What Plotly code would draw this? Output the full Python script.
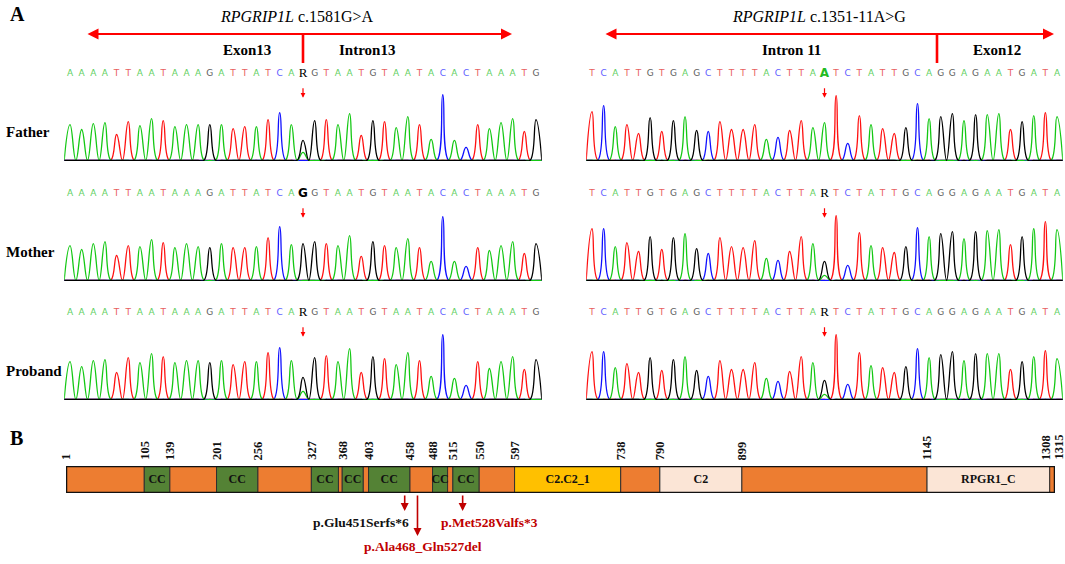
import numpy as np
import plotly.graph_objects as go

W, H = 1065, 564

# ---------------- dados: painel A (cromatogramas) ----------------
seq_esq_pai = "AAAATTAATAAAGATTATCARGTAATGTAATACACTAAATG"
seq_esq_mae = "AAAATTAATAAAGATTATCAGGTAATGTAATACACTAAATG"
seq_esq_probando = "AAAATTAATAAAGATTATCARGTAATGTAATACACTAAATG"
seq_dir_pai = "TCATTGTGAGCTTTTACTTAATCTATTGCAGGAGAATGATA"
seq_dir_mae = "TCATTGTGAGCTTTTACTTARTCTATTGCAGGAGAATGATA"
seq_dir_probando = "TCATTGTGAGCTTTTACTTARTCTATTGCAGGAGAATGATA"

alt_esq_pai = [36, 31, 37, 38, 26, 39, 35, 42, 40, 34, 36, 36, 36, 36, 32, 34, 34, 41, 48, 36,
               20, 40, 41, 36, 47, 25, 40, 39, 33, 44, 36, 21, 66, 20, 13, 36, 32, 38, 42, 29, 41]
alt_esq_mae = [35, 31, 37, 39, 25, 35, 34, 41, 38, 33, 37, 34, 33, 37, 33, 33, 34, 43, 54, 36,
               37, 39, 37, 35, 45, 24, 39, 35, 33, 42, 33, 19, 64, 19, 14, 33, 30, 35, 39, 27, 37]
alt_esq_probando = [38, 33, 39, 40, 27, 42, 37, 46, 43, 37, 39, 39, 37, 39, 35, 38, 38, 47, 52, 39,
                    22, 42, 44, 38, 51, 27, 43, 41, 35, 47, 39, 23, 65, 21, 14, 38, 31, 38, 43, 30, 40]
alt_dir_pai = [49, 55, 34, 36, 27, 43, 29, 40, 44, 30, 29, 39, 31, 31, 36, 21, 23, 30, 40, 33,
               38, 65, 17, 45, 36, 32, 27, 33, 57, 42, 44, 47, 40, 46, 46, 47, 31, 39, 45, 48, 44]
alt_dir_mae = [52, 52, 34, 38, 29, 44, 31, 43, 47, 32, 27, 43, 34, 33, 40, 22, 20, 29, 44, 37,
               19, 65, 15, 48, 35, 33, 28, 34, 53, 44, 47, 49, 42, 49, 50, 51, 36, 44, 52, 59, 51]
alt_dir_probando = [48, 48, 32, 36, 27, 42, 29, 40, 43, 29, 23, 39, 30, 30, 37, 21, 18, 28, 43, 37,
                    19, 65, 15, 47, 34, 32, 27, 33, 51, 42, 45, 48, 39, 46, 46, 46, 30, 38, 43, 49, 41]

# picos secundarios nas posicoes heterozigotas (indice: (base, altura))
extra_esq_pai = {20: ('A', 8)}
extra_esq_mae = {}
extra_esq_probando = {20: ('A', 8)}
extra_dir_pai = {}
extra_dir_mae = {20: ('A', 5)}
extra_dir_probando = {20: ('A', 5)}

pos_mutacao = 20
individuos = ['Father', 'Mother', 'Proband']

# ---------------- dados: painel B (proteina) ----------------
dom_inicio = [1, 105, 139, 201, 256, 327, 363, 368, 396, 403, 458, 488, 508, 515, 550, 597, 738, 790, 899, 1145, 1308]
dom_fim = [105, 139, 201, 256, 327, 363, 368, 396, 403, 458, 488, 508, 515, 550, 597, 738, 790, 899, 1145, 1308, 1315]
dom_nome = ['', 'CC', '', 'CC', '', 'CC', '', 'CC', '', 'CC', '', 'CC', '', 'CC', '', 'C2.C2_1', '', 'C2', '', 'RPGR1_C', '']
marcas = [1, 105, 139, 201, 256, 327, 368, 403, 458, 488, 515, 550, 597, 738, 790, 899, 1145, 1308, 1315]

var_pos = [451, 468, 528]
var_nome = ['p.Glu451Serfs*6', 'p.Ala468_Gln527del', 'p.Met528Valfs*3']

# ---------------- estilo ----------------
cor_traco = {'A': '#14c814', 'C': '#1010ff', 'G': '#000000', 'T': '#ff1010'}
cor_letra = {'A': '#5fcf5f', 'C': '#6060ff', 'G': '#606060', 'T': '#e86060', 'R': '#000000'}
cor_dom = {'': '#ED7D31', 'CC': '#548235', 'C2.C2_1': '#FFC000', 'C2': '#FBE5D6', 'RPGR1_C': '#FBE5D6'}
SERIF = 'Liberation Serif'
VERM = '#ff0000'
VERM_ESC = '#C00000'


def px(x):
    return x / W


def py(y):
    return 1 - y / H


fig = go.Figure()

# linhas de base de cada fileira (pixels) e eixos x de cada coluna
bases = [161, 281, 400]
colunas = [(64.2, 541.8), (586.2, 1062.8)]
paineis = [
    (seq_esq_pai, alt_esq_pai, extra_esq_pai, seq_dir_pai, alt_dir_pai, extra_dir_pai),
    (seq_esq_mae, alt_esq_mae, extra_esq_mae, seq_dir_mae, alt_dir_mae, extra_dir_mae),
    (seq_esq_probando, alt_esq_probando, extra_esq_probando, seq_dir_probando, alt_dir_probando, extra_dir_probando),
]


def chromatograma(seq, alturas, extra, eixo):
    n = len(seq)
    xs = np.arange(-0.5, n - 0.5 + 0.01, 0.5)
    for base in 'TCAG':
        ys = np.zeros(len(xs))
        for i, b in enumerate(seq):
            principal = 'G' if b == 'R' else b
            if principal == base:
                ys[2 * i + 1] = alturas[i]
        for i, (b, h) in extra.items():
            if b == base:
                ys[2 * i + 1] = h
        fig.add_trace(go.Scatter(
            x=xs, y=ys, mode='lines',
            line=dict(color=cor_traco[base], width=1.3, shape='spline', smoothing=1.3),
            xaxis='x' + eixo, yaxis='y' + eixo, hoverinfo='skip', showlegend=False))

    # letras da sequencia
    textos, cores, tams, fams = [], [], [], []
    for i, b in enumerate(seq):
        if i == pos_mutacao:
            if b == 'R':
                textos.append('R')
                cores.append('#000000')
                tams.append(13)
                fams.append(SERIF)
            else:
                textos.append('<b>' + b + '</b>')
                cores.append('#000000' if b == 'G' else '#22bb22')
                tams.append(12)
                fams.append('DejaVu Sans')
        else:
            textos.append(b)
            cores.append(cor_letra[b])
            tams.append(9)
            fams.append('DejaVu Sans')
    fig.add_trace(go.Scatter(
        x=list(range(n)), y=[87] * n, mode='text', text=textos,
        textfont=dict(color=cores, size=tams, family=fams),
        xaxis='x' + eixo, yaxis='y' + eixo, hoverinfo='skip', showlegend=False))


layout_eixos = {}
anotacoes = []
k = 0
for r, (s1, a1, e1, s2, a2, e2) in enumerate(paineis):
    for c, (seq, alt, ext) in enumerate([(s1, a1, e1), (s2, a2, e2)]):
        k += 1
        eixo = '' if k == 1 else str(k)
        chromatograma(seq, alt, ext, eixo)
        nome_x = 'xaxis' + eixo
        nome_y = 'yaxis' + eixo
        layout_eixos[nome_x] = dict(domain=[px(colunas[c][0]), px(colunas[c][1])],
                                    range=[-0.5, len(seq) - 0.5], visible=False,
                                    anchor='y' + eixo)
        layout_eixos[nome_y] = dict(domain=[py(bases[r]), py(bases[r] - 100)],
                                    range=[-0.7, 100], visible=False, anchor='x' + eixo)
        # seta vermelha sobre a posicao da mutacao
        anotacoes.append(dict(x=pos_mutacao, y=63, xref='x' + eixo, yref='y' + eixo,
                              ax=0, ay=-11, showarrow=True, arrowhead=2, arrowsize=0.8,
                              arrowwidth=1.2, arrowcolor=VERM, text=''))
    anotacoes.append(dict(x=px(4), y=py(bases[r] - 29), xref='paper', yref='paper',
                          text='<b>' + individuos[r] + '</b>', showarrow=False,
                          xanchor='left', yanchor='middle',
                          font=dict(family=SERIF, size=15, color='black')))

# ---------------- painel B ----------------
larguras = [f - i for i, f in zip(dom_inicio, dom_fim)]
fig.add_trace(go.Bar(
    y=[0] * len(dom_inicio), x=larguras, base=dom_inicio, orientation='h', width=1,
    marker=dict(color=[cor_dom[n] for n in dom_nome], line=dict(color='#303030', width=1)),
    xaxis='x7', yaxis='y7', hoverinfo='skip', showlegend=False))
fig.add_trace(go.Bar(
    y=[0], x=[dom_fim[-1] - dom_inicio[0]], base=[dom_inicio[0]], orientation='h', width=1,
    marker=dict(color='rgba(0,0,0,0)', line=dict(color='#111111', width=2.5)),
    xaxis='x7', yaxis='y7', hoverinfo='skip', showlegend=False))

meio = [(i + f) / 2 for i, f, n in zip(dom_inicio, dom_fim, dom_nome) if n]
rotulos = ['<b>' + n + '</b>' for n in dom_nome if n]
fig.add_trace(go.Scatter(
    x=meio, y=[0] * len(meio), mode='text', text=rotulos,
    textfont=dict(family=SERIF, size=12, color='#111111'),
    xaxis='x7', yaxis='y7', hoverinfo='skip', showlegend=False))

layout_eixos['xaxis7'] = dict(domain=[px(66), px(1055)], range=[dom_inicio[0], dom_fim[-1]],
                              visible=False, anchor='y7')
layout_eixos['yaxis7'] = dict(domain=[py(493), py(466)], range=[-0.5, 0.5],
                              visible=False, anchor='x7')

desloc = {1308: -4, 1315: 3}
for m in marcas:
    anotacoes.append(dict(x=m, y=py(462), xref='x7', yref='paper', text='<b>' + str(m) + '</b>',
                          showarrow=False, textangle=-90, yanchor='bottom', xanchor='center',
                          xshift=desloc.get(m, 0),
                          font=dict(family=SERIF, size=12.5, color='#111111')))

comp_seta = [17, 42, 17]
y_texto = [522, 546, 522]
cor_texto = ['#111111', VERM_ESC, VERM_ESC]
ancora = [('right', 6), ('center', 6), ('left', -24)]
for p, nome, L, yt, ct, (xa, xs) in zip(var_pos, var_nome, comp_seta, y_texto, cor_texto, ancora):
    anotacoes.append(dict(x=p, y=py(494 + L), xref='x7', yref='paper', ax=0, ay=-L,
                          showarrow=True, arrowhead=2, arrowsize=1, arrowwidth=1.6,
                          arrowcolor=VERM_ESC, text=''))
    anotacoes.append(dict(x=p, y=py(yt), xref='x7', yref='paper', text='<b>' + nome + '</b>',
                          showarrow=False, xanchor=xa, xshift=xs, yanchor='middle',
                          font=dict(family=SERIF, size=13.5, color=ct)))

# ---------------- cabecalhos do painel A ----------------
def texto(x, y, t, tam, **kw):
    anotacoes.append(dict(x=px(x), y=py(y), xref='paper', yref='paper', text=t, showarrow=False,
                          xanchor=kw.get('xanchor', 'center'), yanchor='middle',
                          font=dict(family=SERIF, size=tam, color='black')))


texto(8, 14, '<b>A</b>', 20, xanchor='left')
texto(8, 438, '<b>B</b>', 20, xanchor='left')
texto(297, 16, '<i>RPGRIP1L</i> c.1581G&gt;A', 16)
texto(819, 16, '<i>RPGRIP1L</i> c.1351-11A&gt;G', 16)
texto(247, 50, '<b>Exon13</b>', 15)
texto(367, 50, '<b>Intron13</b>', 15)
texto(791, 50, '<b>Intron 11</b>', 15)
texto(997, 50, '<b>Exon12</b>', 15)

for x0, x1 in [(86, 512), (604, 1054)]:
    anotacoes.append(dict(x=px(x1), y=py(34), xref='paper', yref='paper', ax=-(x1 - x0), ay=0,
                          showarrow=True, arrowside='end+start', arrowhead=2, arrowsize=1,
                          arrowwidth=2.2, arrowcolor=VERM, text=''))

shapes = [dict(type='line', xref='paper', yref='paper', x0=px(x), x1=px(x), y0=py(34), y1=py(63),
               line=dict(color=VERM, width=2.6)) for x in (303, 937)]

fig.update_layout(
    width=W, height=H, margin=dict(l=0, r=0, t=0, b=0),
    paper_bgcolor='white', plot_bgcolor='rgba(0,0,0,0)',
    barmode='overlay', showlegend=False,
    annotations=anotacoes, shapes=shapes,
    **layout_eixos)

# a pagina gerada tem margem padrao de 8px no body; zera para alinhar com a janela
fig.write_html("out.html", config={'displayModeBar': False},
               post_script="document.body.style.margin='0';")
